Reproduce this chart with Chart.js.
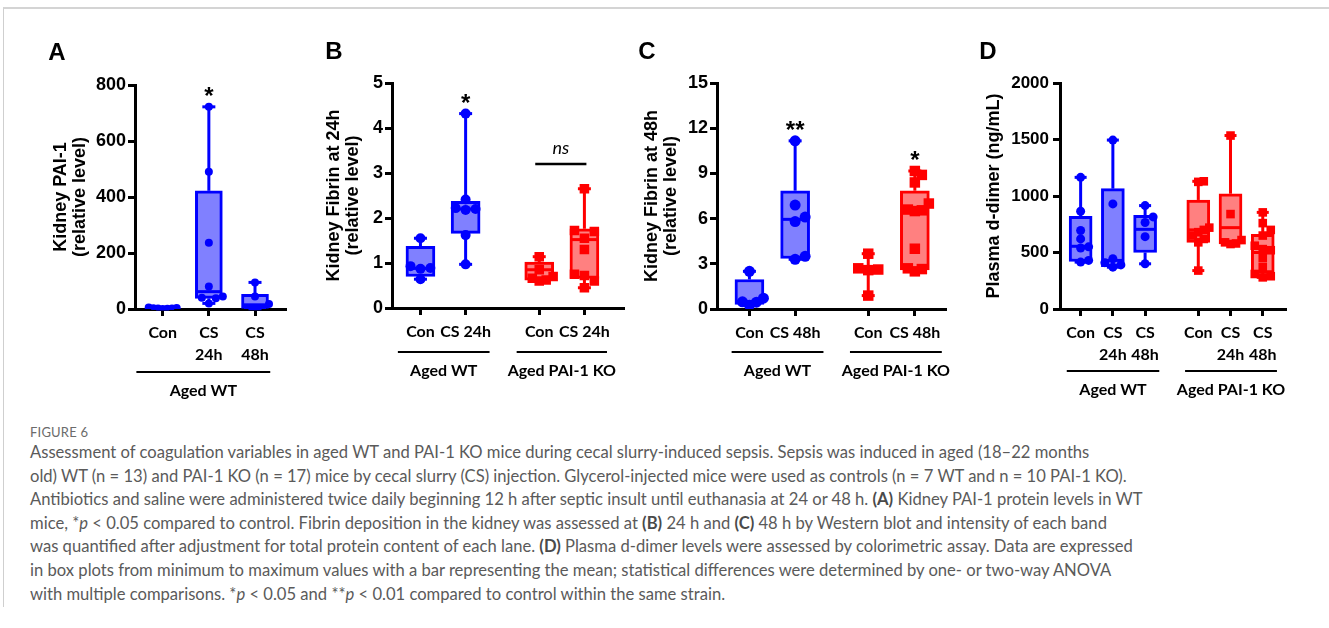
<!DOCTYPE html>
<html>
<head>
<meta charset="utf-8">
<script src="https://cdn.jsdelivr.net/npm/chart.js@4/dist/chart.umd.min.js"></script>
<style>
  html, body { margin: 0; padding: 0; background: #fff; }
  body { width: 1329px; height: 628px; position: relative; overflow: hidden; font-family: Lato, sans-serif; }
  .frame { position: absolute; left: 3px; top: 7px; width: 1330px; height: 598px;
           border-top: 2px solid #d4d4d4; border-left: 1px solid #cfcfcf; }
  canvas { position: absolute; }
  #fig { position: absolute; left: 30px; top: 424px; font-size: 13px; line-height: 16px; color: #6b6b6b; letter-spacing: 0.2px; }
  #cap { position: absolute; left: 30px; top: 441px; font-size: 16.6px; line-height: 23.6px; color: #5a5a5a; white-space: nowrap; }
  #cap b { color: #4a4a4a; }
</style>
</head>
<body>
<div class="frame"></div>
<canvas id="chartA" width="270" height="370" style="left:30px;top:30px"></canvas>
<canvas id="chartB" width="330" height="370" style="left:300px;top:30px"></canvas>
<canvas id="chartC" width="340" height="370" style="left:620px;top:30px"></canvas>
<canvas id="chartD" width="340" height="370" style="left:960px;top:30px"></canvas>

<div id="fig">FIGURE 6</div>
<div id="cap">
Assessment of coagulation variables in aged WT and PAI-1 KO mice during cecal slurry-induced sepsis. Sepsis was induced in aged (18–22 months<br>
old) WT (n = 13) and PAI-1 KO (n = 17) mice by cecal slurry (CS) injection. Glycerol-injected mice were used as controls (n = 7 WT and n = 10 PAI-1 KO).<br>
Antibiotics and saline were administered twice daily beginning 12 h after septic insult until euthanasia at 24 or 48 h. <b>(A)</b> Kidney PAI-1 protein levels in WT<br>
mice, *<i>p</i> &lt; 0.05 compared to control. Fibrin deposition in the kidney was assessed at <b>(B)</b> 24 h and <b>(C)</b> 48 h by Western blot and intensity of each band<br>
was quantified after adjustment for total protein content of each lane. <b>(D)</b> Plasma d-dimer levels were assessed by colorimetric assay. Data are expressed<br>
in box plots from minimum to maximum values with a bar representing the mean; statistical differences were determined by one- or two-way ANOVA<br>
with multiple comparisons. *<i>p</i> &lt; 0.05 and **<i>p</i> &lt; 0.01 compared to control within the same strain.
</div>

<script>
// ── A: Kidney PAI-1 ──
const aCategories = ['Con', ['CS', '24h'], ['CS', '48h']];
const aWtCon  = [0, 1, 2, 2, 3, 4, 5];
const aWtCs24 = [722, 490, 237, 80, 45, 40, 38, 20];
const aWtCs48 = [95, 45, 18, 3, 2, 1];
const aBoxes  = [[0, 2, 4], [38, 62, 422], [2, 15, 52]];   // q1, line, q3
const aStars  = ['', '*', ''];
const aStrains = ['Aged WT'];

// ── B: Kidney fibrin at 24h ──
const bCategories = ['Con', 'CS 24h', 'Con', 'CS 24h'];
const bWtCon  = [1.55, 0.93, 0.89, 0.87, 0.64];
const bWtCs24 = [4.32, 2.41, 2.22, 2.2, 2.18, 1.62, 0.97];
const bKoCon  = [1.14, 0.85, 0.7, 0.66, 0.62, 0.6];
const bKoCs24 = [2.65, 1.72, 1.7, 1.55, 1.3, 0.75, 0.72, 0.6, 0.45];
const bBoxes  = [[0.7, 0.88, 1.37], [1.66, 2.2, 2.37], [0.62, 0.85, 1.02], [0.66, 1.52, 1.76]];
const bStars  = ['', '*', '', ''];
const bStrains = ['Aged WT', 'Aged PAI-1 KO'];

// ── C: Kidney fibrin at 48h ──
const cCategories = ['Con', 'CS 48h', 'Con', 'CS 48h'];
const cWtCon  = [2.5, 0.72, 0.48, 0.45, 0.25];
const cWtCs48 = [11.16, 6.9, 6.1, 5.8, 3.5, 3.3];
const cKoCon  = [3.67, 2.7, 2.62, 2.58, 0.89];
const cKoCs48 = [9.16, 8.9, 8.4, 7.0, 6.6, 6.55, 6.5, 4.0, 2.7, 2.65, 2.5];
const cBoxes  = [[0.3, 0.5, 1.96], [3.35, 5.95, 7.85], [2.55, 2.62, 2.72], [2.6, 6.55, 7.85]];
const cStars  = ['', '**', '', '*'];
const cStrains = ['Aged WT', 'Aged PAI-1 KO'];

// ── D: Plasma d-dimer ──
const dCategories = ['Con', ['CS', '24h'], ['CS', '48h'], 'Con', ['CS', '24h'], ['CS', '48h']];
const dWtCon  = [1165, 865, 695, 620, 550, 540, 430, 415];
const dWtCs24 = [1495, 930, 445, 410, 390, 370];
const dWtCs48 = [915, 815, 765, 640, 400];
const dKoCon  = [1130, 1125, 720, 700, 680, 650, 620, 590, 340];
const dKoCs24 = [1535, 840, 610, 590, 580, 575];
const dKoCs48 = [855, 760, 700, 650, 560, 530, 520, 450, 370, 310, 290, 280];
const dBoxes  = [[420, 555, 820], [375, 430, 1065], [500, 705, 830], [590, 700, 965], [575, 720, 1020], [320, 500, 660]];
const dStars  = ['', '', '', '', '', ''];
const dStrains = ['Aged WT', 'Aged PAI-1 KO'];

const COLORS = {
  WT: { line: '#0000ff', fill: '#8080ff' },
  KO: { line: '#ff0000', fill: '#ff8080' }
};

const panels = {
  chartA: {
    letter: 'A', letterPos: [27, 23],
    cats: aCategories, groups: [aWtCon, aWtCs24, aWtCs48], boxes: aBoxes, stars: aStars,
    strain: ['WT', 'WT', 'WT'], strains: aStrains, spans: [[-0.57, 2.33]],
    xPos: [0, 1, 2], xMin: -0.6, xMax: 2.65,
    yMax: 800, yStep: 200, yTitle: ['Kidney PAI-1', '(relative level)'], titlePad: 22,
    padTop: 55, padRight: 15, yWidth: 105, xHeight: 91, tickSize: 18, tickPad: 2,
    boxW: 27, cap: 13, r: 4, step: 11, spread: 14, lineOff: 63
  },
  chartB: {
    letter: 'B', letterPos: [34, 22],
    cats: bCategories, groups: [bWtCon, bWtCs24, bKoCon, bKoCs24], boxes: bBoxes, stars: bStars,
    strain: ['WT', 'WT', 'KO', 'KO'], strains: bStrains, spans: [[-0.5, 1.53], [2.13, 4.13]],
    ns: { from: 2, to: 3, value: 3.2, label: 'ns' },
    xPos: [0, 1, 2.63, 3.63], xMin: -0.63, xMax: 4.49,
    yMax: 5, yStep: 1, yTitle: ['Kidney Fibrin at 24h', '(relative level)'], titlePad: 25,
    padTop: 53, padRight: 5, yWidth: 92, xHeight: 92, tickSize: 18, tickPad: 2,
    boxW: 29, cap: 13, r: 5, step: 10, spread: 14, lineOff: 44
  },
  chartC: {
    letter: 'C', letterPos: [27, 22],
    cats: cCategories, groups: [cWtCon, cWtCs48, cKoCon, cKoCs48], boxes: cBoxes, stars: cStars,
    strain: ['WT', 'WT', 'KO', 'KO'], strains: cStrains, spans: [[-0.39, 1.62], [2.2, 4.21]],
    xPos: [0, 1, 2.6, 3.62], xMin: -0.71, xMax: 4.28,
    yMax: 15, yStep: 3, yTitle: ['Kidney Fibrin at 48h', '(relative level)'], titlePad: 23,
    padTop: 53, padRight: 15, yWidth: 97, xHeight: 91, tickSize: 18, tickPad: 2,
    boxW: 29, cap: 13, r: 5.5, step: 10, spread: 14, lineOff: 43
  },
  chartD: {
    letter: 'D', letterPos: [28, 22],
    cats: dCategories, groups: [dWtCon, dWtCs24, dWtCs48, dKoCon, dKoCs24, dKoCs48], boxes: dBoxes, stars: dStars,
    strain: ['WT', 'WT', 'WT', 'KO', 'KO', 'KO'], strains: dStrains, spans: [[-0.43, 2.44], [3.24, 6.09]],
    xPos: [0, 1, 2, 3.65, 4.65, 5.65], xMin: -0.64, xMax: 6.34,
    yMax: 2000, yStep: 500, yTitle: 'Plasma d-dimer (ng/mL)', titlePad: 25,
    padTop: 53, padRight: 15, yWidth: 100, xHeight: 91, tickSize: 17, tickPad: 4,
    boxW: 23, cap: 12, r: 4.5, step: 8, spread: 11, lineOff: 62
  }
};

// simple deterministic swarm: points that would overlap are pushed sideways
function swarm(vals, thr) {
  const order = [0, 1, -1, 2, -2, 3, -3, 4, -4, 5, -5];
  const placed = [];
  vals.slice().sort((a, b) => a - b).forEach(v => {
    const o = order.find(k => !placed.some(q => q.o === k && Math.abs(q.v - v) < thr));
    placed.push({ v, o: o === undefined ? 0 : o });
  });
  return placed;
}

function line(ctx, x1, y1, x2, y2) {
  ctx.beginPath(); ctx.moveTo(x1, y1); ctx.lineTo(x2, y2); ctx.stroke();
}

const boxExtras = {
  id: 'boxExtras',
  afterDatasetDraw(chart, args) {
    if (args.meta.type !== 'bar') return;
    const p = panels[chart.canvas.id];
    const { ctx } = chart;
    const xs = chart.scales.x, ys = chart.scales.y;
    p.groups.forEach((pts, i) => {
      const c = COLORS[p.strain[i]].line;
      const px = xs.getPixelForValue(p.xPos[i]);
      const [q1, mid, q3] = p.boxes[i];
      const lo = ys.getPixelForValue(Math.min(...pts));
      const hi = ys.getPixelForValue(Math.max(...pts));
      ctx.save();
      ctx.strokeStyle = c; ctx.lineWidth = 3;
      line(ctx, px, hi, px, ys.getPixelForValue(q3));
      line(ctx, px, ys.getPixelForValue(q1), px, lo);
      line(ctx, px - p.cap / 2, hi, px + p.cap / 2, hi);
      line(ctx, px - p.cap / 2, lo, px + p.cap / 2, lo);
      const ym = ys.getPixelForValue(mid);
      line(ctx, px - p.boxW / 2 + 2, ym, px + p.boxW / 2 - 2, ym);
      ctx.restore();
    });
  },
  afterDraw(chart) {
    const p = panels[chart.canvas.id];
    const { ctx } = chart;
    const xs = chart.scales.x, ys = chart.scales.y;
    ctx.save();
    // panel letter
    ctx.fillStyle = '#000';
    ctx.font = 'bold 24px "Liberation Sans", Arial, sans-serif';
    ctx.textAlign = 'center'; ctx.textBaseline = 'middle';
    ctx.fillText(p.letter, p.letterPos[0], p.letterPos[1]);
    // significance stars
    ctx.font = 'bold 24px "Liberation Sans", Arial, sans-serif';
    ctx.textBaseline = 'alphabetic';
    p.stars.forEach((s, i) => {
      if (!s) return;
      const yTop = ys.getPixelForValue(Math.max(...p.groups[i]));
      ctx.fillText(s, xs.getPixelForValue(p.xPos[i]), yTop - 16 + 13);
    });
    // ns bracket
    if (p.ns) {
      const x1 = xs.getPixelForValue(p.xPos[p.ns.from]) - 4;
      const x2 = xs.getPixelForValue(p.xPos[p.ns.to]) + 2;
      const yb = ys.getPixelForValue(p.ns.value);
      ctx.strokeStyle = '#000'; ctx.lineWidth = 2.5;
      line(ctx, x1, yb, x2, yb);
      ctx.font = 'italic 18px Lato, sans-serif';
      ctx.textBaseline = 'middle';
      ctx.fillText(p.ns.label, (x1 + x2) / 2, yb - 16);
    }
    // strain underline + label
    const axisY = xs.top;
    ctx.strokeStyle = '#000'; ctx.lineWidth = 2;
    ctx.font = 'bold 16px Lato, sans-serif';
    ctx.textBaseline = 'middle';
    p.spans.forEach((sp, i) => {
      const x1 = xs.getPixelForValue(sp[0]), x2 = xs.getPixelForValue(sp[1]);
      const yl = axisY + p.lineOff;
      line(ctx, x1, yl, x2, yl);
      ctx.fillText(p.strains[i], (x1 + x2) / 2, yl + 19);
    });
    ctx.restore();
  }
};
Chart.register(boxExtras);

function makePanel(id) {
  const p = panels[id];
  const canvas = document.getElementById(id);
  const plotW = canvas.width - p.yWidth - p.padRight;
  const plotH = canvas.height - p.xHeight - p.padTop;
  const pxPerX = plotW / (p.xMax - p.xMin);
  const thr = 8 * p.yMax / plotH;

  const wt = [], ko = [];
  p.groups.forEach((pts, i) => {
    const placed = swarm(pts, thr);
    const maxO = Math.max(1, ...placed.map(q => Math.abs(q.o)));
    const s = Math.min(p.step, p.spread / maxO);
    const target = p.strain[i] === 'WT' ? wt : ko;
    placed.forEach(q => target.push({ x: p.xPos[i] + q.o * s / pxPerX, y: q.v }));
  });

  new Chart(canvas, {
    type: 'bar',
    data: {
      datasets: [
        {
          type: 'bar',
          data: p.boxes.map((b, i) => ({ x: p.xPos[i], y: [b[0], b[2]] })),
          backgroundColor: p.strain.map(s => COLORS[s].fill),
          borderColor: p.strain.map(s => COLORS[s].line),
          borderWidth: 3,
          borderSkipped: false,
          barThickness: p.boxW,
          order: 2
        },
        {
          type: 'scatter',
          data: wt,
          pointStyle: 'circle',
          pointRadius: p.r,
          backgroundColor: COLORS.WT.line,
          borderWidth: 0,
          order: 1
        },
        {
          type: 'scatter',
          data: ko,
          pointStyle: 'rect',
          pointRadius: p.r * 1.35,
          backgroundColor: COLORS.KO.line,
          borderWidth: 0,
          order: 1
        }
      ]
    },
    options: {
      responsive: false,
      animation: false,
      layout: { padding: { left: 0, top: p.padTop, right: p.padRight, bottom: 0 } },
      plugins: { legend: { display: false }, tooltip: { enabled: false } },
      scales: {
        x: {
          type: 'linear',
          min: p.xMin,
          max: p.xMax,
          offset: false,
          grid: { display: true, drawOnChartArea: false, drawTicks: true, tickLength: 7, color: '#000', lineWidth: 3, offset: false },
          border: { display: true, color: '#000', width: 3 },
          ticks: {
            color: '#000',
            font: { family: 'Lato', weight: 'bold', size: 16, lineHeight: 1.375 },
            padding: 6,
            maxRotation: 0,
            autoSkip: false,
            callback: (v, i) => p.cats[i]
          },
          afterBuildTicks: s => { s.ticks = p.xPos.map(v => ({ value: v })); },
          afterFit: s => { s.height = p.xHeight; }
        },
        y: {
          type: 'linear',
          min: 0,
          max: p.yMax,
          grid: { display: true, drawOnChartArea: false, drawTicks: true, tickLength: 7, color: '#000', lineWidth: 3 },
          border: { display: true, color: '#000', width: 3 },
          ticks: {
            stepSize: p.yStep,
            color: '#000',
            padding: p.tickPad,
            font: { family: 'Liberation Sans', weight: 'bold', size: p.tickSize },
            callback: v => String(v)
          },
          title: {
            display: true,
            text: p.yTitle,
            color: '#000',
            font: { family: 'Liberation Sans', weight: 'bold', size: 18, lineHeight: 19 / 18 },
            padding: { top: p.titlePad, bottom: 0 }
          },
          afterFit: s => { s.width = p.yWidth; }
        }
      }
    }
  });
}

['chartA', 'chartB', 'chartC', 'chartD'].forEach(makePanel);
</script>
</body>
</html>
